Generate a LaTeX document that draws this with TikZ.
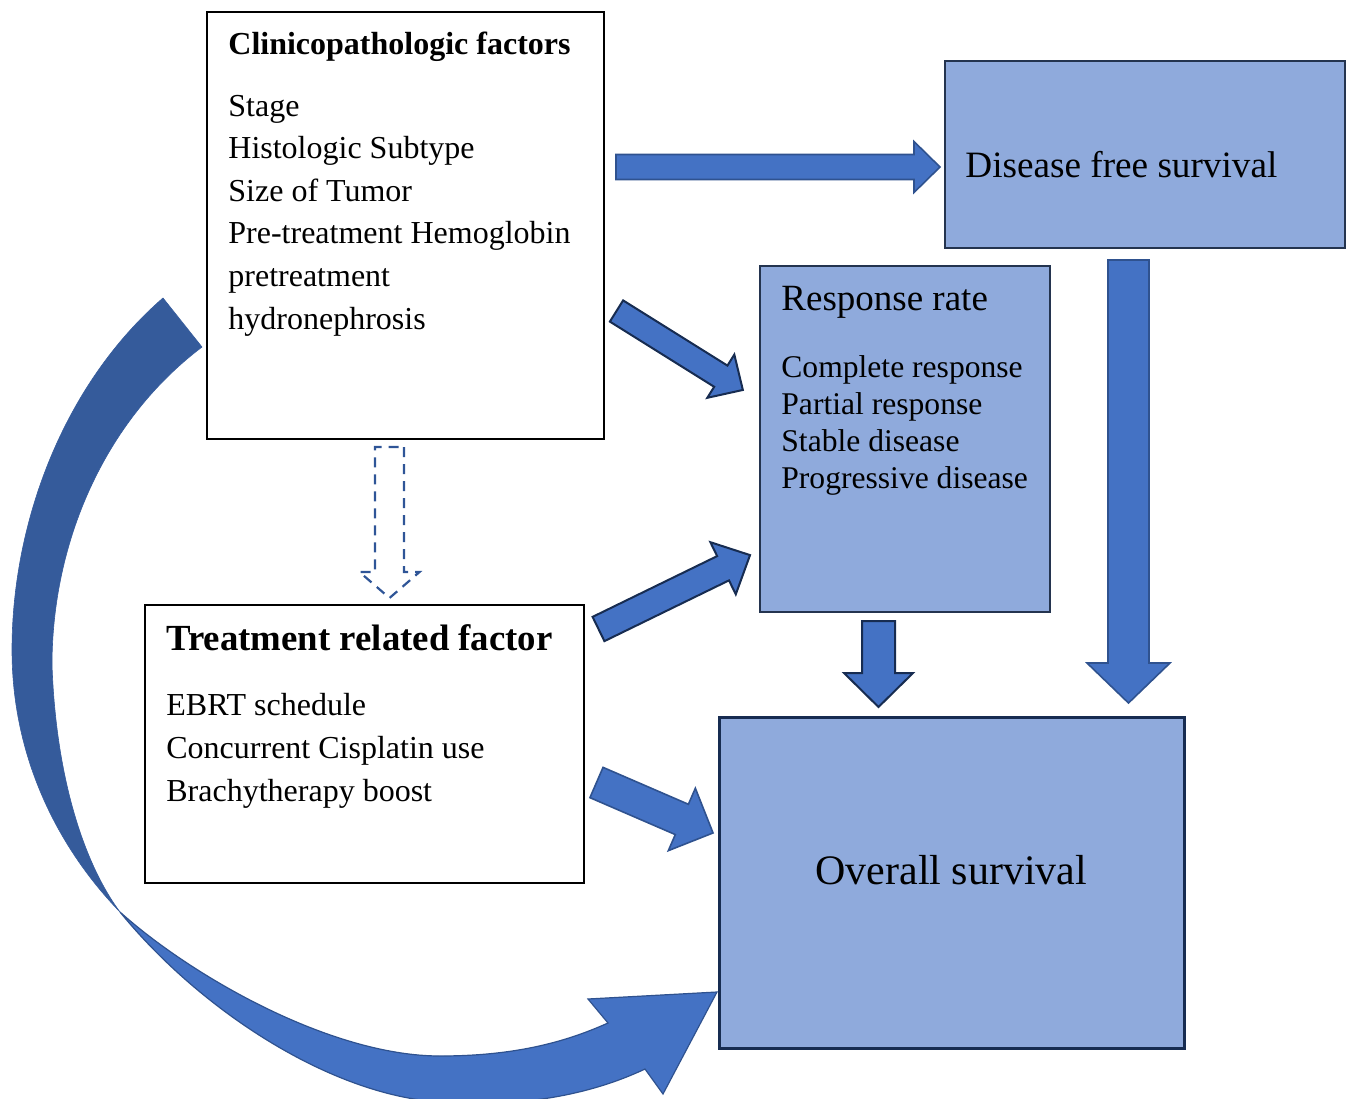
\documentclass[tikz,border=0pt]{standalone}
\usepackage{fontspec}
\setmainfont{Liberation Serif}
\usetikzlibrary{fit}
\definecolor{boxblue}{HTML}{8FAADC}
\definecolor{arrowblue}{HTML}{4472C4}
\definecolor{arrowline}{HTML}{2F528F}
\definecolor{navyline}{HTML}{172C51}
\definecolor{curveback}{HTML}{355B9B}
\definecolor{dashblue}{HTML}{2F5597}
\definecolor{boxline}{HTML}{24344F}

% #1 style, #2 tail point, #3 angle, #4 length, #5 shaft width, #6 head width, #7 head length
\newcommand{\blockarrow}[7]{%
  \begin{scope}[shift={#2}, rotate=#3]
    \path[#1] (0,{-#5/2}) -- ({#4-#7},{-#5/2}) -- ({#4-#7},{-#6/2}) -- (#4,0)
      -- ({#4-#7},{#6/2}) -- ({#4-#7},{#5/2}) -- (0,{#5/2}) -- cycle;
  \end{scope}}

\tikzset{
  whitebox/.style={draw=black, line width=0.7pt, fill=white, inner sep=0pt},
  bluebox/.style={draw=boxline, line width=0.8pt, fill=boxblue, inner sep=0pt},
  txt/.style={inner sep=0pt, anchor=base west, font=\fontsize{16}{19}\selectfont},
  arrA/.style={fill=arrowblue, draw=arrowline, line width=0.8pt, line join=miter},
  arrB/.style={fill=arrowblue, draw=navyline, line width=1pt, line join=miter},
  hollow/.style={draw=dashblue, line width=1.1pt, dash pattern=on 5pt off 3.5pt},
  curveback/.style={fill=curveback, draw=curveback, line width=0.3pt},
  curvefront/.style={fill=arrowblue, draw=arrowline, line width=0.6pt, line join=miter}
}

\begin{document}
\begin{tikzpicture}[x=0.5pt, y=-0.5pt]
\useasboundingbox (0,0) rectangle (1346,1099);

% curved arrow: back face (upper, darker)
\coordinate (twist) at (120,912);
\path[curveback]
  (163,298) .. controls (65,383) and (12,520) .. (12,650)
  .. controls (12,760) and (60,850) .. (twist)
  .. controls (85,865) and (56,780) .. (52,665)
  .. controls (52,543) and (104,421) .. (202,347) -- cycle;
% curved arrow: front face (lower, with head)
\path[curvefront]
  (twist) .. controls (190,975) and (330,1056) .. (440,1056)
  .. controls (520,1056) and (570,1040) .. (608,1023)
  -- (588,999) -- (717,992) -- (663,1094) -- (645,1069)
  .. controls (590,1095) and (520,1108) .. (440,1102)
  .. controls (330,1095) and (200,1010) .. (twist) -- cycle;

% boxes
\node[whitebox, fit={(207,12)(604,439)}] (clin) {};
\node[whitebox, fit={(145,605)(584,883)}] (treat) {};
\node[bluebox, fit={(945,61)(1345,248)}] (dfs) {};
\node[bluebox, fit={(760,266)(1050,612)}] (resp) {};
\node[bluebox, draw=navyline, line width=1.5pt, fit={(719,717)(1184,1048)}] (os) {};

% texts
\node[txt, font=\fontsize{16}{19}\selectfont\bfseries] (clintitle) at (228,54) {Clinicopathologic factors};
\foreach \t [count=\i] in {Stage, Histologic Subtype, Size of Tumor, Pre-treatment Hemoglobin, pretreatment, hydronephrosis}
  \node[txt] (clin\i) at (228,{116+42.6*(\i-1)}) {\t};

\node[txt, font=\fontsize{18.4}{22}\selectfont\bfseries] (treattitle) at (166,650) {Treatment related factor};
\foreach \t [count=\i] in {EBRT schedule, Concurrent Cisplatin use, Brachytherapy boost}
  \node[txt] (treat\i) at (166,{715+43*(\i-1)}) {\t};

\node[txt, font=\fontsize{18.6}{22}\selectfont] (dfstext) at (965,177) {Disease free survival};
\node[txt, font=\fontsize{18.5}{22}\selectfont] (resptitle) at (781,310) {Response rate};
\foreach \t [count=\i] in {Complete response, Partial response, Stable disease, Progressive disease}
  \node[txt, font=\fontsize{15.8}{19}\selectfont] (resp\i) at (781,{377+37*(\i-1)}) {\t};
\node[txt, font=\fontsize{21}{25}\selectfont] (ostext) at (815,884) {Overall survival};

% block arrows
\blockarrow{arrA}{(616,167)}{0}{324}{25}{51}{26}
\blockarrow{arrB}{(616.5,311)}{-32}{149}{25}{51}{26}
\blockarrow{arrB}{(598.5,629)}{26}{168.6}{27}{58}{30}
\blockarrow{arrA}{(596.5,782.5)}{-23.4}{127}{33}{68}{34}
\blockarrow{arrB}{(878.5,621)}{-90}{86}{33}{69}{34}
\blockarrow{arrA}{(1128.5,260)}{-90}{443}{41}{83}{40}
\blockarrow{hollow}{(389.5,447)}{-90}{151}{29}{60}{26}
\end{tikzpicture}
\end{document}
